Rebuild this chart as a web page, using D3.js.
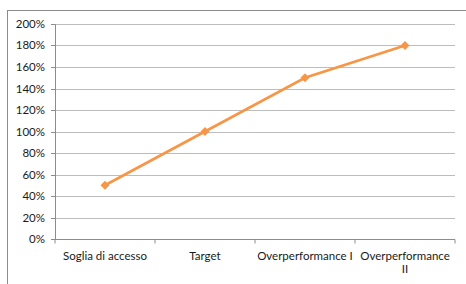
<!DOCTYPE html>
<html>
<head>
<meta charset="utf-8">
<script src="https://cdn.jsdelivr.net/npm/d3@7"></script>
<style>
body{margin:0;background:#fff;}
svg text{font-family:Lato,"Open Sans",sans-serif;font-size:11.5px;fill:#1a1a1a;}
</style>
</head>
<body>
<svg id="chart" width="466" height="284"></svg>
<script>
const categories = ["Soglia di accesso","Target","Overperformance I","Overperformance II"];
const values = [0.5, 1.0, 1.5, 1.8];
const yTicks = [0,0.2,0.4,0.6,0.8,1.0,1.2,1.4,1.6,1.8,2.0];

const svg = d3.select("#chart"),
margin = {top:24,right:11,bottom:45,left:55},
width = +svg.attr("width") - margin.left - margin.right,
height = +svg.attr("height") - margin.top - margin.bottom;

// chart frame (cropped at right/bottom)
svg.append("rect")
.attr("x",7.5).attr("y",10.5)
.attr("width",480).attr("height",300)
.attr("fill","none").attr("stroke","#8c8c8c");

const g = svg.append("g")
.attr("transform",`translate(${margin.left},${margin.top})`);

const x = d3.scaleBand().domain(categories).range([0,width]);
const y = d3.scaleLinear().domain([0,2]).range([height,0]);

// gridlines
g.selectAll(".grid").data(yTicks.filter(d=>d>0)).enter()
.append("line")
.attr("x1",0).attr("x2",width)
.attr("y1",d=>Math.round(y(d))+0.5).attr("y2",d=>Math.round(y(d))+0.5)
.attr("stroke","#bdbdbd").attr("stroke-width",1.2);

const yAxis = g.append("g")
.call(d3.axisLeft(y).tickValues(yTicks).tickFormat(d3.format(".0%")).tickSize(4).tickPadding(6));
yAxis.select(".domain").attr("stroke","#8c8c8c");
yAxis.selectAll(".tick line").attr("stroke","#8c8c8c");
yAxis.selectAll(".tick").attr("transform",d=>`translate(0,${Math.round(y(d))+0.5})`);

const xAxisGroup = g.append("g").attr("transform",`translate(0,${height+0.5})`);
xAxisGroup.append("line").attr("x1",0).attr("x2",width).attr("stroke","#8c8c8c");
xAxisGroup.selectAll(".xt").data(categories.concat([null])).enter()
.append("line")
.attr("x1",(d,i)=>i<categories.length?x(d):width)
.attr("x2",(d,i)=>i<categories.length?x(d):width)
.attr("y1",0).attr("y2",4).attr("stroke","#8c8c8c");

const labelLines = {"Overperformance II":["Overperformance","II"]};
categories.forEach(c=>{
  const lines = labelLines[c] || [c];
  const t = xAxisGroup.append("text")
  .attr("text-anchor","middle")
  .attr("transform",`translate(${x(c)+x.bandwidth()/2},20)`);
  lines.forEach((l,i)=>t.append("tspan").attr("x",0).attr("dy",i?13:0).text(l));
});

const line = d3.line()
.x((d,i)=>x(categories[i])+x.bandwidth()/2)
.y(d=>y(d));

g.append("path").datum(values)
.attr("d",line)
.attr("fill","none")
.attr("stroke","#f79646")
.attr("stroke-width",2.6);

// Excel-style diamond: square rotated 45deg
g.selectAll(".pt").data(values).enter()
.append("path")
.attr("d",d3.symbol().type(d3.symbolSquare).size(40))
.attr("transform",(d,i)=>`translate(${x(categories[i])+x.bandwidth()/2},${y(d)}) rotate(45)`)
.attr("fill","#f79646");
</script>
</body>
</html>
